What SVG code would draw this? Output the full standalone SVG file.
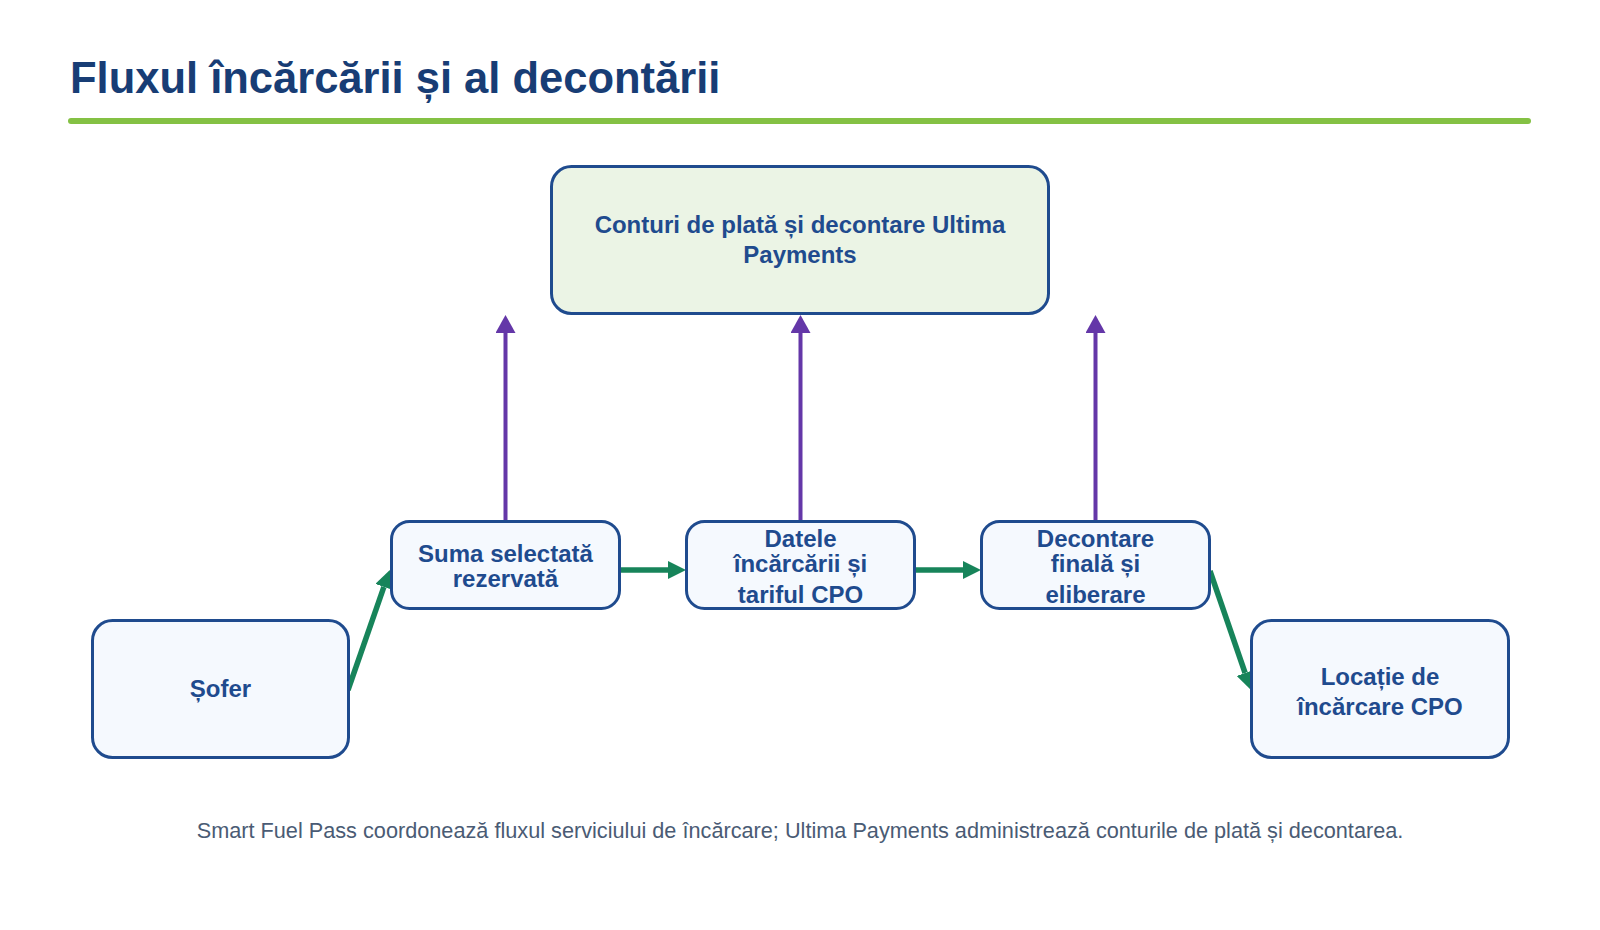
<svg xmlns="http://www.w3.org/2000/svg" width="1600" height="930" viewBox="0 0 1600 930">
  <style>
    .title { font-family: "Liberation Sans", Arial, sans-serif; font-weight: bold; font-size: 43.5px; fill: #183d75; }
    .node rect { fill: #f5f9fe; stroke: #1f4b8e; stroke-width: 3; }
    .node.main rect { fill: #ebf4e5; }
    .label { font-family: "Liberation Sans", Arial, sans-serif; font-weight: bold; font-size: 24px; fill: #1f4b8e; text-anchor: middle; }
    .foot { font-family: "Liberation Sans", Arial, sans-serif; font-size: 21.7px; fill: #4a5b74; text-anchor: middle; }
    .flow { stroke: #17845a; stroke-width: 5.5; fill: none; }
    .pay { stroke: #6437a8; stroke-width: 4; fill: none; }
  </style>
  <defs>
    <marker id="headGreen" markerUnits="userSpaceOnUse" markerWidth="18" markerHeight="18" refX="0" refY="9" orient="auto">
      <path d="M0,0 L18,9 L0,18 z" fill="#17845a"/>
    </marker>
    <marker id="headPurple" markerUnits="userSpaceOnUse" markerWidth="18" markerHeight="20" refX="0" refY="10" orient="auto">
      <path d="M0,0 L18,10 L0,20 z" fill="#6437a8"/>
    </marker>
  </defs>
  <rect width="1600" height="930" fill="#ffffff"/>

  <text class="title" x="70" y="93">Fluxul încărcării și al decontării</text>
  <line x1="71" y1="121" x2="1528" y2="121" stroke="#84c144" stroke-width="6" stroke-linecap="round"/>

  <g id="connectors">
    <line class="pay" x1="505.5" y1="521" x2="505.5" y2="333" marker-end="url(#headPurple)"/>
    <line class="pay" x1="800.5" y1="521" x2="800.5" y2="333" marker-end="url(#headPurple)"/>
    <line class="pay" x1="1095.5" y1="521" x2="1095.5" y2="333" marker-end="url(#headPurple)"/>
    <line class="flow" x1="348" y1="690" x2="383.9" y2="586.9" marker-end="url(#headGreen)"/>
    <line class="flow" x1="619" y1="570" x2="668" y2="570" marker-end="url(#headGreen)"/>
    <line class="flow" x1="914" y1="570" x2="963" y2="570" marker-end="url(#headGreen)"/>
    <line class="flow" x1="1210" y1="571" x2="1245.1" y2="673" marker-end="url(#headGreen)"/>
  </g>

  <g id="node-accounts" class="node main">
    <rect x="551.5" y="166.5" width="497" height="147" rx="20"/>
    <text class="label" x="800" y="233">Conturi de plată și decontare Ultima</text>
    <text class="label" x="800" y="263">Payments</text>
  </g>
  <g id="node-sofer" class="node">
    <rect x="92.5" y="620.5" width="256" height="137" rx="20"/>
    <text class="label" x="220.5" y="697">Șofer</text>
  </g>
  <g id="node-suma" class="node">
    <rect x="391.5" y="521.5" width="228" height="87" rx="18"/>
    <text class="label" x="505.5" y="562">Suma selectată</text>
    <text class="label" x="505.5" y="587">rezervată</text>
  </g>
  <g id="node-datele" class="node">
    <rect x="686.5" y="521.5" width="228" height="87" rx="18"/>
    <text class="label" x="800.5" y="547">Datele</text>
    <text class="label" x="800.5" y="572">încărcării și</text>
    <text class="label" x="800.5" y="603">tariful CPO</text>
  </g>
  <g id="node-decontare" class="node">
    <rect x="981.5" y="521.5" width="228" height="87" rx="18"/>
    <text class="label" x="1095.5" y="547">Decontare</text>
    <text class="label" x="1095.5" y="572">finală și</text>
    <text class="label" x="1095.5" y="603">eliberare</text>
  </g>
  <g id="node-locatie" class="node">
    <rect x="1251.5" y="620.5" width="257" height="137" rx="20"/>
    <text class="label" x="1380" y="685">Locație de</text>
    <text class="label" x="1380" y="715">încărcare CPO</text>
  </g>

  <text class="foot" x="800" y="838">Smart Fuel Pass coordonează fluxul serviciului de încărcare; Ultima Payments administrează conturile de plată și decontarea.</text>
</svg>
